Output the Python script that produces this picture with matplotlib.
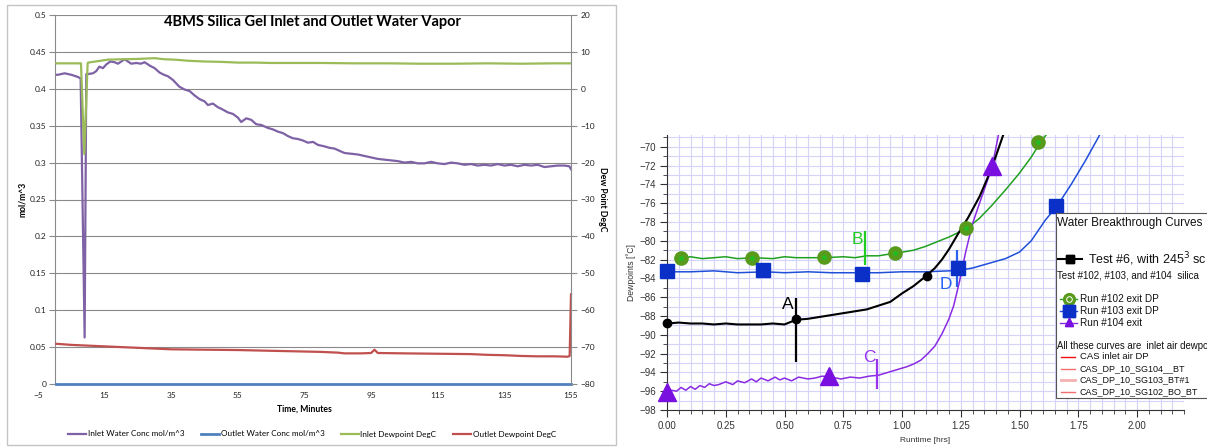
import numpy as np
import matplotlib
matplotlib.use("Agg")
import matplotlib.pyplot as plt
from matplotlib.patches import Rectangle
from matplotlib.lines import Line2D

W, H = 1207, 447

# ---- left chart: 4BMS silica gel (Excel) ----
t_inlet = [0.5, 1, 3, 5, 7, 7.8, 9.0, 9.5, 10, 11.5, 12.5, 13.4, 14.5, 15.5, 16.7, 18, 19, 20,
           21, 22, 23, 24.5, 25.9, 27, 28.7, 30, 31.5, 32.8, 34, 35.5, 37.4, 39, 40.5, 42, 43.5,
           45, 46, 47.5, 49, 50, 52, 53.5, 55, 56, 57.5, 59, 60.5, 62, 64, 65.5, 67, 68.5, 70,
           71.5, 73, 74.5, 76, 77.6, 79, 81, 82.5, 84, 85.5, 87, 89, 91, 93, 95, 97, 99, 101,
           103, 105, 107, 109, 111, 113, 115, 117, 119, 121, 123, 125, 127, 129, 131, 133, 135,
           137, 139, 141, 143, 145, 147, 149, 151, 153, 154.5, 155]
inlet_conc = [0.419, 0.419, 0.421, 0.419, 0.416, 0.414, 0.063, 0.42, 0.42, 0.421, 0.424, 0.43,
              0.428, 0.433, 0.437, 0.436, 0.434, 0.437, 0.44, 0.437, 0.434, 0.435, 0.434, 0.436,
              0.431, 0.428, 0.422, 0.419, 0.417, 0.412, 0.403, 0.399, 0.397, 0.391, 0.386, 0.383,
              0.378, 0.38, 0.375, 0.373, 0.368, 0.366, 0.361, 0.355, 0.36, 0.358, 0.352, 0.351,
              0.347, 0.345, 0.342, 0.34, 0.336, 0.333, 0.332, 0.33, 0.327, 0.328, 0.324, 0.322,
              0.32, 0.319, 0.316, 0.313, 0.312, 0.311, 0.309, 0.307, 0.305, 0.304, 0.303, 0.302,
              0.3, 0.301, 0.299, 0.299, 0.301, 0.299, 0.298, 0.3, 0.299, 0.297, 0.298, 0.296,
              0.297, 0.296, 0.298, 0.296, 0.297, 0.295, 0.297, 0.296, 0.297, 0.294, 0.295, 0.296,
              0.296, 0.295, 0.291]

t_outlet = [0.5, 155]
outlet_conc = [0.0, 0.0]

t_dp_in = [0.5, 4, 7.9, 8.9, 9.9, 10, 13, 16, 20, 25, 30, 33, 36, 40, 45, 50, 55, 60, 65, 70,
           80, 90, 100, 110, 120, 130, 140, 150, 155]
inlet_dp = [6.9, 6.9, 6.9, -17.7, 6.9, 7.1, 7.5, 7.9, 8.0, 8.1, 8.3, 8.0, 7.9, 7.6, 7.4, 7.3,
            7.1, 7.1, 7.0, 7.0, 7.0, 6.9, 6.9, 6.8, 6.8, 6.9, 6.8, 6.9, 6.9]

t_dp_out = [0.5, 5, 10, 15, 20, 25, 30, 35, 45, 55, 65, 75, 80, 85, 87, 92, 95, 96, 97, 105,
            115, 125, 130, 135, 140, 145, 150, 154, 154.6, 155]
outlet_dp = [-69.1, -69.4, -69.6, -69.8, -70.0, -70.2, -70.4, -70.6, -70.7, -70.8, -71.0, -71.2,
             -71.3, -71.5, -71.7, -71.7, -71.6, -70.7, -71.6, -71.7, -71.8, -71.9, -72.1, -72.2,
             -72.4, -72.5, -72.5, -72.6, -72.4, -55.7]

left_xticks = [-5, 15, 35, 55, 75, 95, 115, 135, 155]
left_yticks = [0, 0.05, 0.1, 0.15, 0.2, 0.25, 0.3, 0.35, 0.4, 0.45, 0.5]
right_yticks = [-80, -70, -60, -50, -40, -30, -20, -10, 0, 10, 20]
left_names = ["Inlet Water Conc mol/m^3", "Outlet Water Conc mol/m^3",
              "Inlet Dewpoint DegC", "Outlet Dewpoint DegC"]

# ---- right chart: water breakthrough curves (Igor) ----
run102_x = [0.035, 0.06, 0.1, 0.15, 0.2, 0.25, 0.3, 0.37, 0.45, 0.5, 0.55, 0.6, 0.67, 0.75, 0.8,
            0.85, 0.9, 0.95, 0.98, 1.05, 1.1, 1.15, 1.2, 1.25, 1.28, 1.33, 1.38, 1.44, 1.5, 1.55,
            1.59, 1.63]
run102_y = [-81.8, -81.9, -81.7, -81.9, -81.8, -81.7, -81.9, -81.8, -81.9, -81.7, -81.8, -81.8,
            -81.8, -81.7, -81.8, -81.6, -81.6, -81.4, -81.3, -81.0, -80.6, -80.1, -79.6, -79.0,
            -78.6, -77.6, -76.3, -74.6, -72.8, -71.1, -69.5, -68.2]
run102_mx = [0.058, 0.363, 0.667, 0.97, 1.274, 1.58]
run102_my = [-81.8, -81.8, -81.7, -81.3, -78.6, -69.5]

run103_x = [0, 0.1, 0.2, 0.3, 0.42, 0.5, 0.6, 0.7, 0.84, 0.9, 1.0, 1.1, 1.2, 1.25, 1.3, 1.37,
            1.44, 1.5, 1.55, 1.61, 1.66, 1.72, 1.78, 1.84]
run103_y = [-83.3, -83.3, -83.2, -83.4, -83.3, -83.4, -83.3, -83.4, -83.4, -83.4, -83.3, -83.3,
            -83.2, -83.1, -82.9, -82.4, -81.9, -81.2, -80.0, -77.8, -76.3, -74.0, -71.5, -68.8]
run103_mx = [0.0, 0.41, 0.83, 1.24, 1.655]
run103_my = [-83.2, -83.1, -83.5, -82.9, -76.3]

test6_x = [0, 0.05, 0.1, 0.15, 0.2, 0.25, 0.3, 0.35, 0.4, 0.45, 0.5, 0.55, 0.6, 0.65, 0.7, 0.75,
           0.8, 0.85, 0.9, 0.95, 1.0, 1.05, 1.1, 1.14, 1.17, 1.2, 1.24, 1.28, 1.33, 1.38, 1.43]
test6_y = [-88.8, -88.7, -88.8, -88.8, -88.9, -88.8, -88.9, -88.9, -88.9, -88.8, -88.9, -88.4,
           -88.3, -88.1, -87.9, -87.7, -87.5, -87.3, -86.9, -86.5, -85.6, -84.8, -83.8, -82.9,
           -82.0, -80.9, -79.2, -77.6, -75.3, -72.4, -68.8]
test6_mx = [0.0, 0.55, 1.105]
test6_my = [-88.7, -88.35, -83.7]

run104_x = [0, 0.02, 0.04, 0.06, 0.08, 0.1, 0.12, 0.14, 0.16, 0.18, 0.2, 0.22, 0.25, 0.28, 0.3,
            0.33, 0.36, 0.38, 0.4, 0.43, 0.46, 0.48, 0.5, 0.53, 0.56, 0.6, 0.63, 0.66, 0.7, 0.74,
            0.78, 0.82, 0.86, 0.9, 0.94, 0.98, 1.02, 1.05, 1.08, 1.11, 1.14, 1.17, 1.2, 1.22,
            1.245, 1.27, 1.3, 1.33, 1.355, 1.384, 1.41]
run104_y = [-96.2, -95.9, -96.0, -95.6, -95.9, -95.5, -95.8, -95.4, -95.6, -95.2, -95.4, -95.3,
            -95.0, -95.3, -94.9, -95.1, -94.7, -95.0, -94.6, -94.9, -94.5, -94.8, -94.6, -94.9,
            -94.5, -94.7, -94.6, -94.4, -94.5, -94.7, -94.5, -94.6, -94.4, -94.3, -94.0, -93.7,
            -93.4, -93.1, -92.7, -92.0, -91.2, -89.9, -88.3, -86.9, -84.3, -81.3, -78.2, -76.0,
            -74.2, -72.1, -68.8]
run104_mx = [0.0, 0.69, 1.384]
run104_my = [-96.1, -94.4, -72.1]

mark_names = ["A", "B", "C", "D"]
mark_x = [0.55, 0.842, 0.895, 1.235]
mark_lo = [-92.85, -82.6, -95.8, -84.9]
mark_hi = [-86.1, -79.0, -92.6, -81.0]
mark_tx = [0.513, 0.81, 0.863, 1.186]
mark_ty = [-86.8, -79.9, -92.4, -84.7]
mark_col = ["black", "#22cc22", "#9933ee", "#2a62f0"]

GREEN, BLUE, BLACK, PURPLE = "#20a020", "#1f4fd8", "black", "#8a2be2"
GMARK, BMARK, PMARK = "#579a1c", "#0a30c8", "#7a10e0"


def box(l, t, r, b):
    return [l / W, 1 - b / H, (r - l) / W, (b - t) / H]


fig = plt.figure(figsize=(W / 100, H / 100), dpi=100)

# ================= left chart =================
XL = "Lato"
fig.add_artist(Rectangle((7 / W, 1 - 445 / H), 609 / W, 440 / H, transform=fig.transFigure,
                         fill=False, ec="#c4c4c4", lw=1))

ax1 = fig.add_axes(box(38, 15, 571, 384))
ax1.set_xlim(-5, 155)
ax1.set_ylim(0, 0.5)
ax1.hlines(left_yticks[1:], 0, 155, color="#8a8a8a", lw=0.8, zorder=0)
l1, = ax1.plot(t_inlet, inlet_conc, color="#7E62A5", lw=1.6)
l2, = ax1.plot(t_outlet, outlet_conc, color="#4F81BD", lw=2.0, clip_on=False, zorder=5)
for s in ["top", "right"]:
    ax1.spines[s].set_visible(False)
ax1.spines["left"].set_position(("data", 0))
ax1.spines["bottom"].set_bounds(0, 155)
for s in ["left", "bottom"]:
    ax1.spines[s].set_color("#8a8a8a")
ax1.set_xticks(left_xticks)
ax1.set_yticks(left_yticks)
ax1.yaxis.set_major_formatter(lambda v, p: f"{v:g}")
ax1.tick_params(axis="x", length=0, pad=6, labelsize=6, labelcolor="#222222")
ax1.tick_params(axis="y", length=4, width=0.8, color="#8a8a8a", pad=2, labelsize=6,
                labelcolor="#222222")
for lab in ax1.get_xticklabels() + ax1.get_yticklabels():
    lab.set_family(XL)

ax2 = ax1.twinx()
ax2.set_ylim(-80, 20)
l3, = ax2.plot(t_dp_in, inlet_dp, color="#9BBB59", lw=1.6)
l4, = ax2.plot(t_dp_out, outlet_dp, color="#C0504D", lw=1.6, clip_on=False)
for s in ["top", "left", "bottom"]:
    ax2.spines[s].set_visible(False)
ax2.spines["right"].set_color("#8a8a8a")
ax2.set_yticks(right_yticks)
ax2.tick_params(axis="y", length=4, width=0.8, color="#8a8a8a", pad=3, labelsize=6,
                labelcolor="#222222")
for lab in ax2.get_yticklabels():
    lab.set_family(XL)

fig.text(312 / W, 1 - 22 / H, "4BMS Silica Gel Inlet and Outlet Water Vapor", ha="center",
         va="center", fontsize=10.5, fontweight="bold", family=XL)
fig.text(304 / W, 1 - 409 / H, "Time, Minutes", ha="center", va="center", fontsize=6.2,
         fontweight="bold", family=XL)
fig.text(23 / W, 1 - 199 / H, "mol/m^3", ha="center", va="center", rotation=90, fontsize=6.2,
         fontweight="bold", family=XL)
fig.text(602 / W, 1 - 199 / H, "Dew Point DegC", ha="center", va="center", rotation=270,
         fontsize=6.2, fontweight="bold", family=XL)
fig.legend([l1, l2, l3, l4], left_names, loc="center", bbox_to_anchor=(312 / W, 1 - 434 / H),
           ncol=4, frameon=False, prop={"family": XL, "size": 5.9}, handlelength=2.2,
           handletextpad=0.2, columnspacing=2.0, borderpad=0)

# ================= right chart =================
RF = "Liberation Sans"
ax3 = fig.add_axes(box(667, 135, 1184, 410))
ax3.set_xlim(0, 2.2)
ax3.set_ylim(-98, -68.75)
ax3.set_xticks(np.arange(0, 2.01, 0.25))
ax3.set_xticks(np.arange(0, 2.201, 0.05), minor=True)
ax3.set_yticks(np.arange(-98, -69, 2))
ax3.set_yticks(np.arange(-98, -68, 1), minor=True)
ax3.grid(which="both", color="#d4d4fa", lw=0.8)
ax3.set_axisbelow(True)
ax3.xaxis.set_major_formatter(lambda v, p: f"{v:.2f}")
for s in ["top", "right"]:
    ax3.spines[s].set_visible(False)
for s in ["left", "bottom"]:
    ax3.spines[s].set_color("#333333")
    ax3.spines[s].set_linewidth(0.8)
ax3.tick_params(which="major", length=5, width=0.8, color="#333333", labelsize=7,
                labelcolor="#333333", pad=3)
ax3.tick_params(which="minor", length=3, width=0.6, color="#333333")
for lab in ax3.get_xticklabels() + ax3.get_yticklabels():
    lab.set_family(RF)
ax3.set_xlabel("Runtime [hrs]", fontsize=6, family=RF, color="#333333", labelpad=4)
ax3.set_ylabel("Dewpoints [˚C]", fontsize=6.2, family=RF, color="#333333", labelpad=2)

ax3.plot(run102_x, run102_y, color=GREEN, lw=1.1)
ax3.plot(run103_x, run103_y, color=BLUE, lw=1.1)
ax3.plot(run104_x, run104_y, color=PURPLE, lw=1.1)
ax3.plot(test6_x, test6_y, color=BLACK, lw=1.5)
ax3.plot(run102_mx, run102_my, "o", ms=9.5, color=GMARK, clip_on=False, zorder=6)
ax3.plot(run102_mx, run102_my, "o", ms=2.5, color="#22bb22", clip_on=False, zorder=7)
ax3.plot(run103_mx, run103_my, "s", ms=10, color=BMARK, clip_on=False, zorder=6)
ax3.plot(run104_mx, run104_my, "^", ms=13, color=PMARK, clip_on=False, zorder=6)
ax3.plot(test6_mx, test6_my, "o", ms=6, color=BLACK, clip_on=False, zorder=6)

ax3.vlines(mark_x, mark_lo, mark_hi, colors=mark_col, lw=1.6, zorder=5)
for n, x, y, c in zip(mark_names, mark_tx, mark_ty, mark_col):
    ax3.text(x, y, n, color=c, fontsize=12.5, family=RF, ha="center", va="center", zorder=7)

# legend box of the Igor graph (runs off the right edge of the picture, as in the original)
fig.add_artist(Rectangle((1056 / W, 1 - 398 / H), 200 / W, 185 / H, transform=fig.transFigure,
                         fc="white", ec="#555555", lw=0.8, zorder=10))


def ftext(px, py, s, size):
    fig.text(px / W, 1 - py / H, s, fontsize=size, family=RF, va="center", ha="left",
             color="#111111", zorder=11)


def fline(x0, x1, py, **kw):
    fig.add_artist(Line2D([x0 / W, x1 / W], [1 - py / H, 1 - py / H],
                          transform=fig.transFigure, zorder=11, **kw))


ftext(1057, 223, "Water Breakthrough Curves", 8.5)
fline(1058, 1082, 259, color="black", lw=1.5)
fline(1070, 1070.01, 259, color="black", marker="s", ms=6)
ftext(1088, 259, "Test #6, with 245$^3$ sc", 9)
ftext(1057, 276, "Test #102, #103, and #104  silica", 7)
fline(1060, 1077, 299, color=GREEN, lw=1)
fline(1068.5, 1068.51, 299, color=GMARK, marker="o", ms=7, mfc="white", mew=2.2)
fline(1068.5, 1068.51, 299, color=GMARK, marker="o", ms=2)
ftext(1080, 299, "Run #102 exit DP", 7.2)
fline(1060, 1077, 310.5, color=BLUE, lw=1)
fline(1068.5, 1068.51, 310.5, color=BMARK, marker="s", ms=9)
ftext(1080, 310.5, "Run #103 exit DP", 7.2)
fline(1060, 1077, 322.5, color=PURPLE, lw=1)
fline(1068.5, 1068.51, 321.5, color=PMARK, marker="^", ms=6)
ftext(1080, 322.5, "Run #104 exit", 7.2)
ftext(1057, 346, "All these curves are  inlet air dewpo", 6.9)
fline(1061, 1075, 356.5, color="#ee1111", lw=1)
ftext(1080, 356.5, "CAS inlet air DP", 6.8)
fline(1061, 1075, 368.5, color="#f07070", lw=1)
ftext(1080, 368.5, "CAS_DP_10_SG104__BT", 6.5)
fline(1061, 1075, 380, color="#f6b0b0", lw=2)
ftext(1080, 380, "CAS_DP_10_SG103_BT#1", 6.5)
fline(1061, 1075, 392, color="#f07070", lw=1)
ftext(1080, 392, "CAS_DP_10_SG102_BO_BT", 6.5)

fig.savefig("out.png", dpi=100)
